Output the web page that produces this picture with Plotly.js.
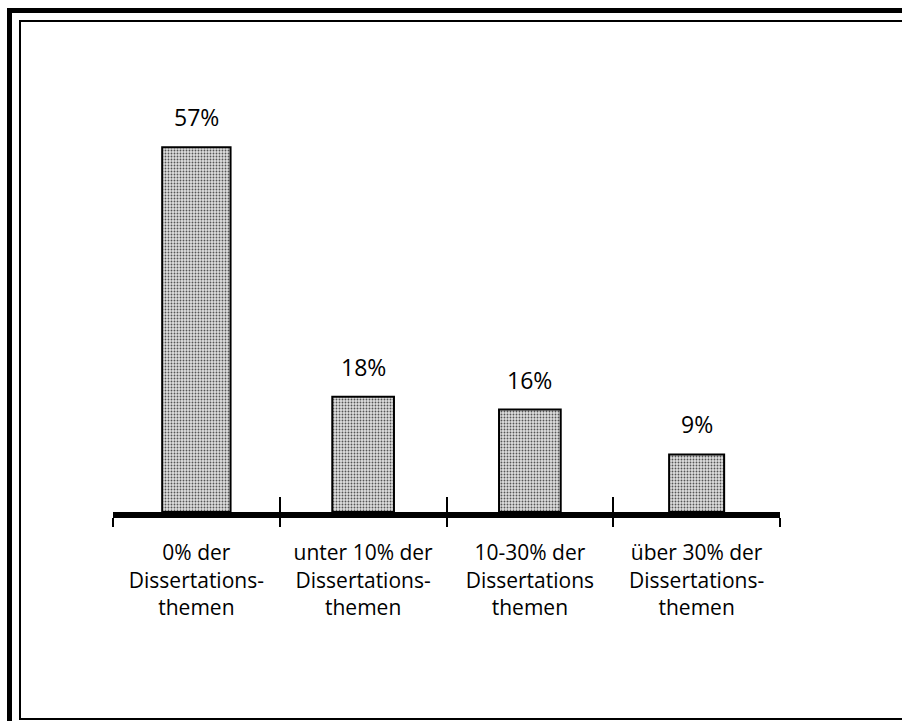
<!DOCTYPE html>
<html>
<head>
<meta charset="utf-8">
<script src="https://cdn.plot.ly/plotly-3.0.1.min.js"></script>
<style>
  html, body { margin: 0; padding: 0; background: #fff; overflow: hidden; width: 906px; height: 721px; }
  #chart { position: absolute; left: 0; top: 0; width: 906px; height: 721px; }
  .frame { position: absolute; pointer-events: none; box-sizing: border-box; border-style: solid; border-color: #000; }
  #outer { left: 7px; top: 8px; width: 895px; height: 713px; border-width: 5px 0 0 5px; }
  #inner { left: 19px; top: 20px; width: 883px; height: 700px; border-width: 2px 0 2px 2px; }
</style>
</head>
<body>
<div id="chart"></div>
<div id="outer" class="frame"></div>
<div id="inner" class="frame"></div>
<script>
const categories = [
  "0% der<br>Dissertations-<br>themen",
  "unter 10% der<br>Dissertations-<br>themen",
  "10-30% der<br>Dissertations<br>themen",
  "über 30% der<br>Dissertations-<br>themen"
];
const values = [57, 18, 16, 9];
const valueLabels = ["57%", "18%", "16%", "9%"];

const font = "'Open Sans', 'Noto Sans', Arial, sans-serif";

const bars = {
  type: "bar",
  x: categories,
  y: values,
  width: [0.41, 0.37, 0.37, 0.33],
  marker: {
    color: "#d6d6d6",
    line: { color: "#000", width: 2 },
    pattern: { shape: ".", fgcolor: "#555", bgcolor: "#dedede", size: 3, solidity: 0.3 }
  },
  hoverinfo: "skip",
  showlegend: false
};

const annotations = categories.map((c, i) => ({
  x: c, y: values[i], xref: "x", yref: "y",
  text: valueLabels[i], showarrow: false,
  yanchor: "bottom", yshift: 12,
  font: { family: font, size: 23, color: "#000" }
}));

const layout = {
  width: 906, height: 721,
  margin: { l: 113, r: 126, t: 128, b: 209 },
  paper_bgcolor: "rgba(0,0,0,0)",
  plot_bgcolor: "rgba(0,0,0,0)",
  showlegend: false,
  xaxis: {
    type: "category",
    range: [-0.5, 3.5],
    showline: true, linecolor: "#000", linewidth: 6,
    ticks: "outside", tickson: "boundaries", ticklen: 9, tickwidth: 2, tickcolor: "#000",
    showgrid: false, zeroline: false,
    tickfont: { family: font, size: 21, color: "#000" },
    ticklabelstandoff: 17
  },
  xaxis2: {
    type: "category",
    overlaying: "x", matches: "x", anchor: "y", side: "bottom",
    range: [-0.5, 3.5],
    showline: false,
    ticks: "inside", tickson: "boundaries", ticklen: 15, tickwidth: 2, tickcolor: "#000",
    showticklabels: false, showgrid: false, zeroline: false
  },
  yaxis: { range: [0, 60], visible: false, showgrid: false, zeroline: false, fixedrange: true },
  annotations: annotations
};

const ghost = {
  type: "bar", x: categories, y: values, xaxis: "x2",
  marker: { color: "rgba(0,0,0,0)" }, hoverinfo: "skip", showlegend: false
};

Plotly.newPlot("chart", [ghost, bars], layout, { staticPlot: true, displayModeBar: false });
</script>
</body>
</html>
